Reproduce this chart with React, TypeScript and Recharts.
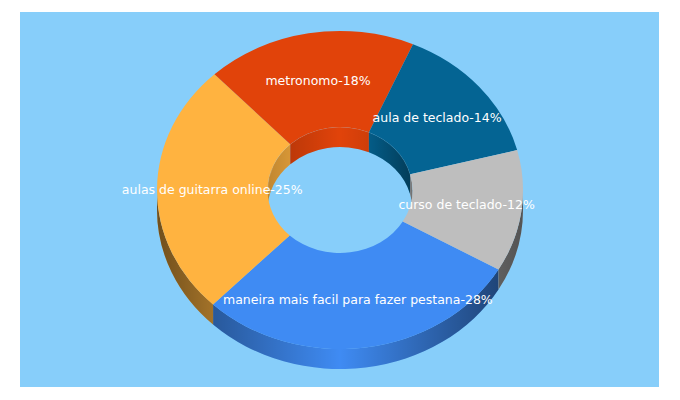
import { Pie, PieChart } from 'recharts'

const names = [
  'maneira mais facil para fazer pestana',
  'aulas de guitarra online',
  'metronomo',
  'aula de teclado',
  'curso de teclado',
]
const shares = [28, 25, 18, 14, 12]
const colors = ['#3f8bf3', '#ffb340', '#e1430a', '#046493', '#bebebe']

const chartData = names.map((name, i) => ({ name, value: shares[i], fill: colors[i] }))

const SQUASH = 159 / 183
const DEPTH = 20
const RAD = Math.PI / 180

// recharts only does round pies, so the sectors get squashed here into ellipses
function point(cx: number, cy: number, r: number, deg: number, drop = 0) {
  return `${cx + r * Math.cos(deg * RAD)} ${cy - r * SQUASH * Math.sin(deg * RAD) + drop}`
}

function arc(r: number, large: boolean, clockwise: boolean, to: string) {
  return `A ${r} ${r * SQUASH} 0 ${large ? 1 : 0} ${clockwise ? 1 : 0} ${to}`
}

function TopFace(props: any) {
  const { cx, cy, innerRadius, outerRadius, startAngle, endAngle, fill } = props
  const large = Math.abs(startAngle - endAngle) > 180
  const d = [
    `M ${point(cx, cy, outerRadius, startAngle)}`,
    arc(outerRadius, large, true, point(cx, cy, outerRadius, endAngle)),
    `L ${point(cx, cy, innerRadius, endAngle)}`,
    arc(innerRadius, large, false, point(cx, cy, innerRadius, startAngle)),
    'Z',
  ].join(' ')
  return <path d={d} fill={fill} />
}

function wallPath(cx: number, cy: number, r: number, hi: number, lo: number) {
  return [
    `M ${point(cx, cy, r, hi)}`,
    arc(r, hi - lo > 180, true, point(cx, cy, r, lo)),
    `L ${point(cx, cy, r, lo, DEPTH)}`,
    arc(r, hi - lo > 180, false, point(cx, cy, r, hi, DEPTH)),
    'Z',
  ].join(' ')
}

// only the part of a sector's wall that faces the viewer
function Walls(props: any) {
  const { cx, cy, innerRadius, outerRadius, startAngle, endAngle, fill } = props
  const parts: any[] = []
  ;[0, -360].forEach(turn => {
    const hi = Math.min(startAngle, turn)
    const lo = Math.max(endAngle, turn - 180)
    if (hi > lo) {
      const d = wallPath(cx, cy, outerRadius, hi, lo)
      parts.push(<path key={`o${turn}`} d={d} fill={fill} />)
      parts.push(<path key={`os${turn}`} d={d} fill="url(#outerShade)" />)
    }
  })
  ;[-180, -540].forEach(turn => {
    const hi = Math.min(startAngle, turn)
    const lo = Math.max(endAngle, turn - 180)
    if (hi > lo) {
      const d = wallPath(cx, cy, innerRadius, hi, lo)
      const rim = `M ${point(cx, cy, innerRadius, hi)} ${arc(innerRadius, false, true, point(cx, cy, innerRadius, lo))}`
      parts.push(<path key={`i${turn}`} d={d} fill={fill} />)
      parts.push(<path key={`is${turn}`} d={d} fill="url(#innerShade)" />)
      parts.push(<path key={`ir${turn}`} d={rim} fill="none" stroke="#fff" strokeOpacity={0.22} strokeWidth={0.8} />)
    }
  })
  return <g>{parts}</g>
}

function renderLabel(props: any) {
  const { cx, cy, midAngle, innerRadius, outerRadius, name, value } = props
  const r = (innerRadius + outerRadius) / 2
  const x = cx + r * Math.cos(midAngle * RAD)
  const y = cy - r * SQUASH * Math.sin(midAngle * RAD)
  return (
    <text
      x={x}
      y={y}
      fill="#fff"
      fontSize={12.5}
      fontFamily="DejaVu Sans"
      textAnchor="middle"
      dominantBaseline="central"
    >
      {`${name}-${value}%`}
    </text>
  )
}

export default function App() {
  return (
    <div style={{ position: 'absolute', left: 0, top: 0, width: 680, height: 400, background: '#fff' }}>
      <div style={{ position: 'absolute', left: 20, top: 12, width: 639, height: 375, background: '#87cefa' }} />
      <div style={{ position: 'absolute', left: 0, top: 0 }}>
        <PieChart width={680} height={400} margin={{ top: 0, right: 0, bottom: 0, left: 0 }}>
          <defs>
            <linearGradient id="outerShade" gradientUnits="userSpaceOnUse" x1={157} x2={523} y1={0} y2={0}>
              <stop offset="0" stopColor="#000" stopOpacity={0.56} />
              <stop offset="0.155" stopColor="#000" stopOpacity={0.36} />
              <stop offset="0.5" stopColor="#000" stopOpacity={0} />
              <stop offset="0.93" stopColor="#000" stopOpacity={0.5} />
              <stop offset="1" stopColor="#000" stopOpacity={0.56} />
            </linearGradient>
            <linearGradient id="innerShade" gradientUnits="userSpaceOnUse" x1={267} x2={412} y1={0} y2={0}>
              <stop offset="0" stopColor="#000" stopOpacity={0.25} />
              <stop offset="0.16" stopColor="#000" stopOpacity={0.16} />
              <stop offset="0.5" stopColor="#000" stopOpacity={0} />
              <stop offset="0.7" stopColor="#000" stopOpacity={0.08} />
              <stop offset="1" stopColor="#000" stopOpacity={0.4} />
            </linearGradient>
          </defs>
          <Pie
            data={chartData}
            dataKey="value"
            nameKey="name"
            cx={340}
            cy={190}
            innerRadius={72.5}
            outerRadius={183}
            startAngle={-30}
            endAngle={-390}
            paddingAngle={0}
            stroke="none"
            shape={Walls}
            isAnimationActive={false}
          />
          <Pie
            data={chartData}
            dataKey="value"
            nameKey="name"
            cx={340}
            cy={190}
            innerRadius={72.5}
            outerRadius={183}
            startAngle={-30}
            endAngle={-390}
            paddingAngle={0}
            stroke="none"
            shape={TopFace}
            label={renderLabel}
            labelLine={false}
            isAnimationActive={false}
          />
        </PieChart>
      </div>
    </div>
  )
}
